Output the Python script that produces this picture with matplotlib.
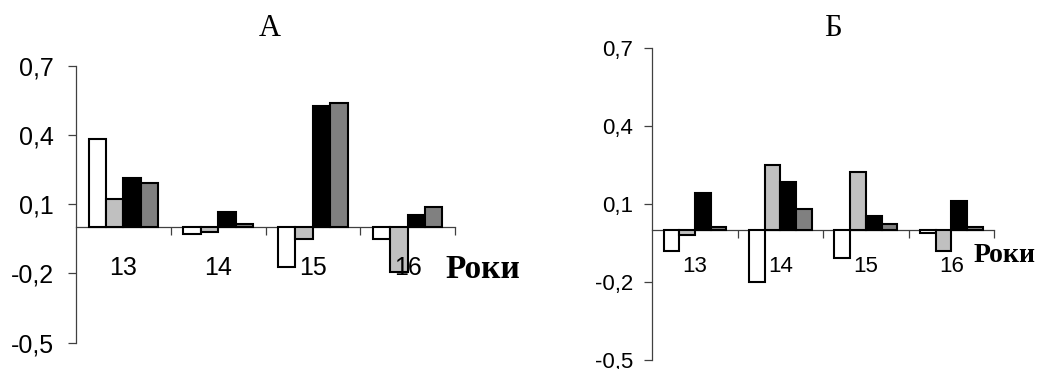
import numpy as np
import matplotlib.pyplot as plt

# years and the four series per panel
years = ['13', '14', '15', '16']
a_white = [0.381, -0.030, -0.171, -0.049]
a_light = [0.123, -0.022, -0.049, -0.192]
a_black = [0.212, 0.065, 0.524, 0.053]
a_dark = [0.193, 0.013, 0.540, 0.089]

b_white = [-0.080, -0.200, -0.109, -0.011]
b_light = [-0.020, 0.250, 0.221, -0.080]
b_black = [0.143, 0.183, 0.052, 0.112]
b_dark = [0.011, 0.081, 0.023, 0.012]

yticks = [-0.5, -0.2, 0.1, 0.4, 0.7]
ytick_labels = ['-0,5', '-0,2', '0,1', '0,4', '0,7']
colors = ['white', '#c0c0c0', 'black', '#808080']

W, H = 1038, 369
fig = plt.figure(figsize=(W / 100, H / 100), dpi=100)


def panel(rect, series, tick_size, pad_y, pad_x, xlabel_pos, xlabel_size):
    ax = fig.add_axes(rect)
    ax.set_axisbelow(False)  # tick labels go over the bars, like "16" in A
    x = np.arange(len(years))
    w = 0.184
    for j, vals in enumerate(series):
        ax.bar(x + 0.5 + (j - 1.5) * w, vals, w, color=colors[j],
               edgecolor='black', linewidth=1.5, zorder=2)
    ax.set_xlim(0, len(years))
    ax.set_ylim(-0.5, 0.7)
    ax.spines['top'].set_visible(False)
    ax.spines['right'].set_visible(False)
    ax.spines['bottom'].set_position(('data', 0))
    ax.spines['bottom'].set_zorder(1)
    for s in ('left', 'bottom'):
        ax.spines[s].set_color('#404040')
        ax.spines[s].set_linewidth(0.9)
    ax.set_yticks(yticks)
    ax.set_yticklabels(ytick_labels, fontsize=tick_size, family='Liberation Sans')
    ax.tick_params(axis='y', direction='out', length=5.8, width=0.9,
                   color='#404040', pad=pad_y)
    ax.set_xticks(x + 0.5)
    ax.set_xticklabels(years, fontsize=tick_size, family='Liberation Sans')
    ax.set_xticks(np.arange(1, len(years) + 1), minor=True)
    ax.tick_params(axis='x', which='major', length=0, pad=pad_x)
    ax.tick_params(axis='x', which='minor', direction='out', length=5.8,
                   width=0.9, color='#404040')
    fig.text(xlabel_pos[0] / W, 1 - xlabel_pos[1] / H, 'Роки',
             fontsize=xlabel_size, fontweight='bold', family='Liberation Serif',
             ha='left', va='baseline')
    return ax


panel([76 / W, 1 - 342.7 / H, 379 / W, 277 / H],
      [a_white, a_light, a_black, a_dark], 18, 10, 20.6, (445, 278), 24)
panel([652.3 / W, 1 - 360 / H, 341.7 / W, 312.3 / H],
      [b_white, b_light, b_black, b_dark], 16, 8, 18.8, (974, 262), 20)

fig.text(269.5 / W, 1 - 36 / H, 'А', fontsize=22, family='Liberation Serif',
         ha='center', va='baseline')
fig.text(833 / W, 1 - 36 / H, 'Б', fontsize=22, family='Liberation Serif',
         ha='center', va='baseline')

fig.savefig('out.png', dpi=100)
